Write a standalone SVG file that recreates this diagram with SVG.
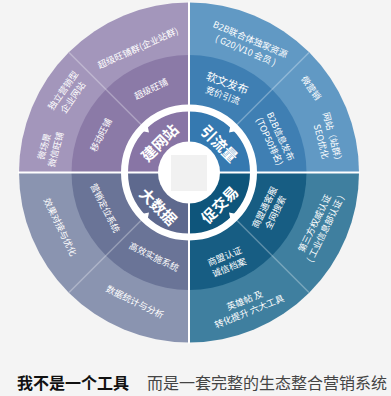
<svg xmlns="http://www.w3.org/2000/svg" width="391" height="396" viewBox="0 0 391 396">
<style>
.t{font-family:"Noto Sans CJK SC","Noto Sans",sans-serif;font-size:9px;fill:#fff;text-anchor:middle}
.h{font-family:"Noto Sans CJK SC","Noto Sans",sans-serif;font-size:15px;font-weight:bold;fill:#fff;text-anchor:middle}
.cap{font-family:"Noto Sans CJK SC","Noto Sans",sans-serif;font-size:16px}
.gap{stroke:#ffffff;stroke-width:2}
.diag{stroke:#ffffff;stroke-opacity:0.3;stroke-width:1.5}
</style>
<rect width="391" height="396" fill="#f4f4f4"/>
<g id="wheel" transform="translate(189,172.5)">
  <g id="q-build">
    <path d="M0,0 L-170,0 A170,170 0 0 1 0,-170 Z" fill="#a396bb"/>
    <path d="M0,0 L-117.5,0 A117.5,117.5 0 0 1 0,-117.5 Z" fill="#8b7aa7"/>
    <path d="M0,0 L-64,0 A64,64 0 0 1 0,-64 Z" fill="#8875a5"/>
  </g>
  <g id="q-traffic">
    <path d="M0,0 L0,-170 A170,170 0 0 1 170,0 Z" fill="#6199c4"/>
    <path d="M0,0 L0,-117.5 A117.5,117.5 0 0 1 117.5,0 Z" fill="#3f7fb3"/>
    <path d="M0,0 L0,-64 A64,64 0 0 1 64,0 Z" fill="#3579b0"/>
  </g>
  <g id="q-trade">
    <path d="M0,0 L170,0 A170,170 0 0 1 0,170 Z" fill="#3f7f9f"/>
    <path d="M0,0 L117.5,0 A117.5,117.5 0 0 1 0,117.5 Z" fill="#175d83"/>
    <path d="M0,0 L64,0 A64,64 0 0 1 0,64 Z" fill="#0e557b"/>
  </g>
  <g id="q-data">
    <path d="M0,0 L0,170 A170,170 0 0 1 -170,0 Z" fill="#8a94b0"/>
    <path d="M0,0 L0,117.5 A117.5,117.5 0 0 1 -117.5,0 Z" fill="#6a7497"/>
    <path d="M0,0 L0,64 A64,64 0 0 1 -64,0 Z" fill="#5e698e"/>
  </g>
  <g id="connectors">
    <line class="gap" x1="-171" y1="0" x2="171" y2="0"/>
    <line class="gap" x1="0" y1="-171" x2="0" y2="171"/>
    <line class="diag" x1="-48" y1="-48" x2="-120" y2="-120"/>
    <line class="diag" x1="48" y1="-48" x2="120" y2="-120"/>
    <line class="diag" x1="48" y1="48" x2="120" y2="120"/>
    <line class="diag" x1="-48" y1="48" x2="-120" y2="120"/>
  </g>
  <g id="hub">
    <circle r="64.5" fill="none" stroke="#ffffff" stroke-width="7"/>
    <polygon points="-41.3,-46.3 -46.3,-41.3 -40,-40" fill="#ffffff"/>
    <polygon points="41.3,-46.3 46.3,-41.3 40,-40" fill="#ffffff"/>
    <polygon points="41.3,46.3 46.3,41.3 40,40" fill="#ffffff"/>
    <polygon points="-41.3,46.3 -46.3,41.3 -40,40" fill="#ffffff"/>
    <circle r="31" fill="#ffffff"/>
    <rect x="-18" y="-17.5" width="36" height="36" fill="#f1f1f1"/>
  </g>
</g>
<g id="hub-labels">
  <text class="h" transform="translate(160,143) rotate(-45)" y="5.3">建网站</text>
  <text class="h" transform="translate(219,144) rotate(45)" y="5.3">引流量</text>
  <text class="h" transform="translate(220,205) rotate(-45)" y="5.3">促交易</text>
  <text class="h" transform="translate(158,207) rotate(45)" y="5.3">大数据</text>
</g>
<g id="build-items">
  <text class="t" transform="translate(138,48) rotate(-24)" y="3.2">超级旺铺群(企业站群)</text>
  <text class="t" transform="translate(68,94) rotate(-55)"><tspan x="0" y="-2.8">独立营销型</tspan><tspan x="0" y="9.2">企业网站</tspan></text>
  <text class="t" transform="translate(50,148) rotate(-75)"><tspan x="0" y="-2.8">微场景</tspan><tspan x="0" y="9.2">微信旺铺</tspan></text>
  <text class="t" transform="translate(151,89) rotate(-26)" y="3.2">超级旺铺</text>
  <text class="t" transform="translate(101,135) rotate(-63)" y="3.2">移动旺铺</text>
</g>
<g id="traffic-items">
  <text class="t" transform="translate(248,45) rotate(23)"><tspan x="0" y="-2.8">B2B联合体独家资源</tspan><tspan x="0" y="9.2">( G20/V10 会员 )</tspan></text>
  <text class="t" transform="translate(311,88) rotate(55)" y="3.2">微营销</text>
  <text class="t" transform="translate(327,140) rotate(75)"><tspan x="0" y="-2.8">网站（站群）</tspan><tspan x="0" y="9.2">SEO优化</tspan></text>
  <text class="t" transform="translate(225,89) rotate(20)"><tspan x="0" y="-2.5" style="font-size:11px">软文发布</tspan><tspan x="0" y="10">竞价引流</tspan></text>
  <text class="t" transform="translate(275,139) rotate(65)"><tspan x="0" y="-2.8">B2B信息发布</tspan><tspan x="0" y="9.2">(TOP50排名)</tspan></text>
</g>
<g id="trade-items">
  <text class="t" transform="translate(270,210) rotate(-64)"><tspan x="0" y="-2.8">商盟通客服</tspan><tspan x="0" y="9.2">全网搜索</tspan></text>
  <text class="t" transform="translate(227,262) rotate(-22)"><tspan x="0" y="-2.8">商盟认证</tspan><tspan x="0" y="9.2">诚信档案</tspan></text>
  <text class="t" transform="translate(320,226) rotate(-64)"><tspan x="0" y="-2.8">第三方权威认证</tspan><tspan x="0" y="9.2">( 工业信息部认证 )</tspan></text>
  <text class="t" transform="translate(247,306) rotate(-22)"><tspan x="0" y="-2.8">英雄帖 及</tspan><tspan x="0" y="9.2">转化提升 六大工具</tspan></text>
</g>
<g id="data-items">
  <text class="t" transform="translate(105,208) rotate(63)" y="3.2">营销定位系统</text>
  <text class="t" transform="translate(154,257) rotate(26)" y="3.2">高效实施系统</text>
  <text class="t" transform="translate(60,227) rotate(64)" y="3.2">效果对接与优化</text>
  <text class="t" transform="translate(135,302) rotate(26)" y="3.2">数据统计与分析</text>
</g>
<g id="caption">
  <text class="cap" x="17" y="389" font-weight="bold" fill="#111111">我不是一个工具</text>
  <text class="cap" x="147" y="389" fill="#444444">而是一套完整的生态整合营销系统</text>
</g>
</svg>
